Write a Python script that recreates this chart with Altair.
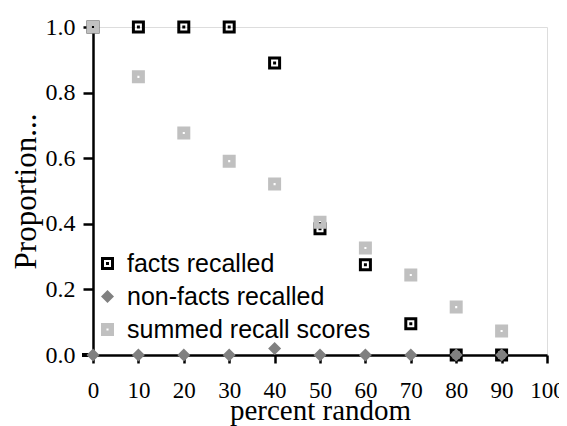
import altair as alt
import pandas as pd

# ---- data ----
x_vals = [0, 10, 20, 30, 40, 50, 60, 70, 80, 90]
facts_recalled = [1.0, 1.0, 1.0, 1.0, 0.89, 0.385, 0.275, 0.095, 0.0, 0.0]
nonfacts_recalled = [0.0, 0.0, 0.0, 0.0, 0.02, 0.0, 0.0, 0.0, 0.0, 0.0]
summed_scores = [1.0, 0.848, 0.677, 0.591, 0.521, 0.405, 0.326, 0.244, 0.146, 0.073]
series_names = ["facts recalled", "non-facts recalled", "summed recall scores"]
x_ticks = list(range(0, 101, 10))
y_ticks = [0.0, 0.2, 0.4, 0.6, 0.8, 1.0]

rows = []
for name, vals in zip(series_names, [facts_recalled, nonfacts_recalled, summed_scores]):
    for xv, yv in zip(x_vals, vals):
        rows.append({"pct": xv, "prop": yv, "series": name})
df = pd.DataFrame(rows)

# custom symbols (unit square -1..1): ring with centre dot, square with white hole
facts_shape = ("M-1,-1L1,-1L1,1L-1,1Z "
               "M-0.54,-0.54L-0.54,0.54L0.54,0.54L0.54,-0.54Z "
               "M-0.23,-0.23L0.23,-0.23L0.23,0.23L-0.23,0.23Z")
summed_shape = ("M-1,-1L1,-1L1,1L-1,1Z "
                "M-0.16,-0.16L-0.16,0.16L0.16,0.16L0.16,-0.16Z")

serif = "Liberation Serif"
sans = "Liberation Sans"

legend = alt.Legend(
    orient="none", legendX=2, legendY=224, title=None,
    labelFont=sans, labelFontSize=25, labelColor="black", labelLimit=0,
    labelOffset=7, rowPadding=7, padding=0, symbolStrokeWidth=0,
    symbolOpacity=1, symbolSize=169,
)

points = alt.Chart(df).mark_point(filled=True, opacity=1, size=169).encode(
    x=alt.X("pct:Q", scale=alt.Scale(domain=[0, 100], nice=False),
            axis=alt.Axis(values=x_ticks, title="percent random", grid=False,
                          labelFlush=False, labelOverlap=False,
                          domainColor="black", domainWidth=2.5,
                          tickColor="black", tickWidth=2.5, tickSize=8,
                          labelFont=serif, labelFontSize=23, labelColor="black",
                          labelPadding=16, titleFont=serif, titleFontSize=29,
                          titleFontWeight="normal", titleColor="black",
                          titleBaseline="alphabetic", titleY=64)),
    y=alt.Y("prop:Q", scale=alt.Scale(domain=[0, 1], nice=False),
            axis=alt.Axis(values=y_ticks, format=".1f", title="Proportion...",
                          grid=False, labelFlush=False,
                          domainColor="black", domainWidth=2.5,
                          tickColor="black", tickWidth=2.5, tickSize=10,
                          labelFont=serif, labelFontSize=24, labelColor="black",
                          labelPadding=8, titleFont=serif, titleFontSize=31,
                          titleFontWeight="normal", titleColor="black",
                          titlePadding=3)),
    color=alt.Color("series:N",
                    scale=alt.Scale(domain=series_names,
                                    range=["black", "#808080", "#c0c0c0"]),
                    legend=legend),
    shape=alt.Shape("series:N",
                    scale=alt.Scale(domain=series_names,
                                    range=[facts_shape, "diamond", summed_shape]),
                    legend=legend),
    order=alt.Order("ord:Q"),
).transform_calculate(
    ord="datum.series == 'facts recalled' ? 0 : (datum.series == 'non-facts recalled' ? 1 : 2)"
)

# short extension of the x-axis line to the left of the y axis
axis_ext = alt.Chart(df).mark_rule(color="black", strokeWidth=2.5).encode(
    y=alt.datum(0),
    x=alt.value(-11),
    x2=alt.value(0),
)

chart = alt.layer(axis_ext, points).properties(
    width=454, height=328,
    autosize=alt.AutoSizeParams(type="none"),
    padding={"left": 85, "top": 19, "right": 12, "bottom": 71},
).configure_view(stroke=None).configure(background="white")

chart.save("out.html", embed_options={"renderer": "svg", "actions": False})
